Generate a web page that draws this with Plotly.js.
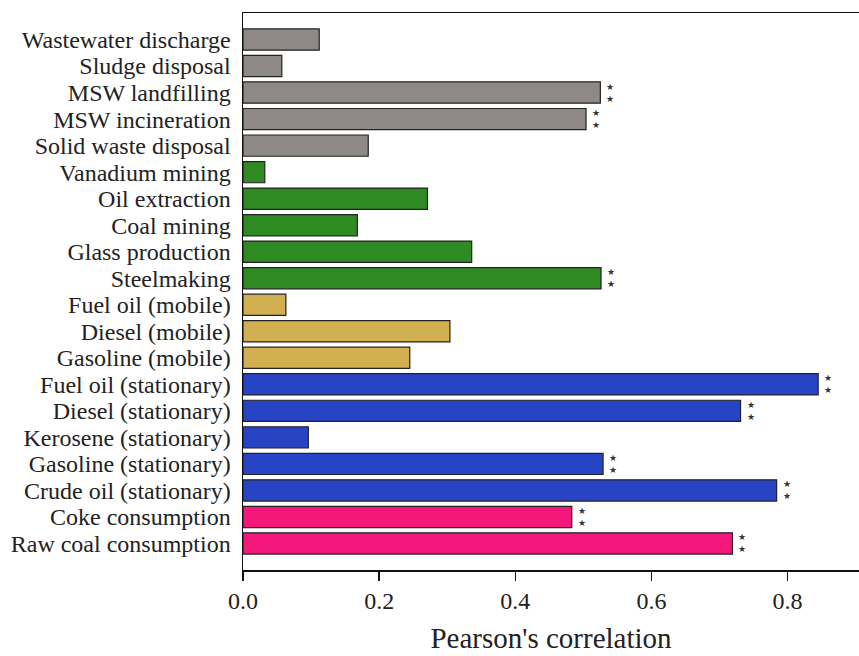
<!DOCTYPE html>
<html>
<head>
<meta charset="utf-8">
<script src="https://cdn.plot.ly/plotly-3.0.1.min.js"></script>
<style>html,body{margin:0;padding:0;background:#fff;}#chart{width:859px;height:656px;}</style>
</head>
<body>
<div id="chart"></div>
<script>
// Categories listed top to bottom as in the picture
const categories = [
  "Wastewater discharge", "Sludge disposal", "MSW landfilling", "MSW incineration",
  "Solid waste disposal", "Vanadium mining", "Oil extraction", "Coal mining",
  "Glass production", "Steelmaking", "Fuel oil (mobile)", "Diesel (mobile)",
  "Gasoline (mobile)", "Fuel oil (stationary)", "Diesel (stationary)",
  "Kerosene (stationary)", "Gasoline (stationary)", "Crude oil (stationary)",
  "Coke consumption", "Raw coal consumption"
];
const values = [
  0.112, 0.057, 0.525, 0.504, 0.184, 0.032, 0.271, 0.168, 0.336, 0.526,
  0.063, 0.304, 0.245, 0.845, 0.731, 0.096, 0.529, 0.784, 0.483, 0.719
];
const groups = [
  "waste", "waste", "waste", "waste", "waste",
  "industry", "industry", "industry", "industry", "industry",
  "mobile", "mobile", "mobile",
  "stationary", "stationary", "stationary", "stationary", "stationary",
  "coal", "coal"
];
const significant = [
  false, false, true, true, false, false, false, false, false, true,
  false, false, false, true, true, false, true, true, true, true
];
const groupColors = {
  waste: "#8e8987",
  industry: "#2f8a23",
  mobile: "#d2b052",
  stationary: "#2644c4",
  coal: "#f5187b"
};

const n = categories.length;
const yPos = categories.map((c, i) => n - 1 - i);

const trace = {
  type: "bar",
  orientation: "h",
  x: values,
  y: yPos,
  width: 0.8,
  marker: {
    color: groups.map(g => groupColors[g]),
    line: { color: "#222222", width: 1.2 }
  },
  hoverinfo: "x+text",
  text: categories,
  textposition: "none"
};

const annotations = [];
values.forEach((v, i) => {
  if (significant[i]) {
    annotations.push({
      x: v, y: yPos[i], xref: "x", yref: "y",
      text: "★<br>★", showarrow: false,
      xanchor: "left", xshift: 4,
      font: { family: "DejaVu Sans", size: 9, color: "#333" },
      align: "center"
    });
  }
});

const layout = {
  width: 859, height: 656,
  margin: { l: 243, r: 0, t: 13, b: 86 },
  paper_bgcolor: "#fff", plot_bgcolor: "#fff",
  showlegend: false,
  font: { family: "Liberation Serif", color: "#222" },
  xaxis: {
    range: [0, 0.905],
    tickvals: [0, 0.2, 0.4, 0.6, 0.8],
    ticktext: ["0.0", "0.2", "0.4", "0.6", "0.8"],
    ticks: "outside", ticklen: 9, tickwidth: 1.5, tickcolor: "#111",
    showgrid: false, zeroline: false,
    showline: true, linecolor: "#111", linewidth: 1.5, mirror: true,
    tickfont: { family: "Liberation Serif", size: 24, color: "#222" },
    title: { text: "Pearson's correlation", font: { family: "Liberation Serif", size: 29, color: "#222" }, standoff: 14 }
  },
  yaxis: {
    range: [-1, n],
    tickvals: yPos,
    ticktext: categories,
    ticks: "", showgrid: false, zeroline: false,
    showline: true, linecolor: "#111", linewidth: 1.5,
    tickfont: { family: "Liberation Serif", size: 24, color: "#222" },
    ticklabelstandoff: 6
  },
  annotations: annotations
};

Plotly.newPlot("chart", [trace], layout, { displayModeBar: false, staticPlot: true });
</script>
</body>
</html>
